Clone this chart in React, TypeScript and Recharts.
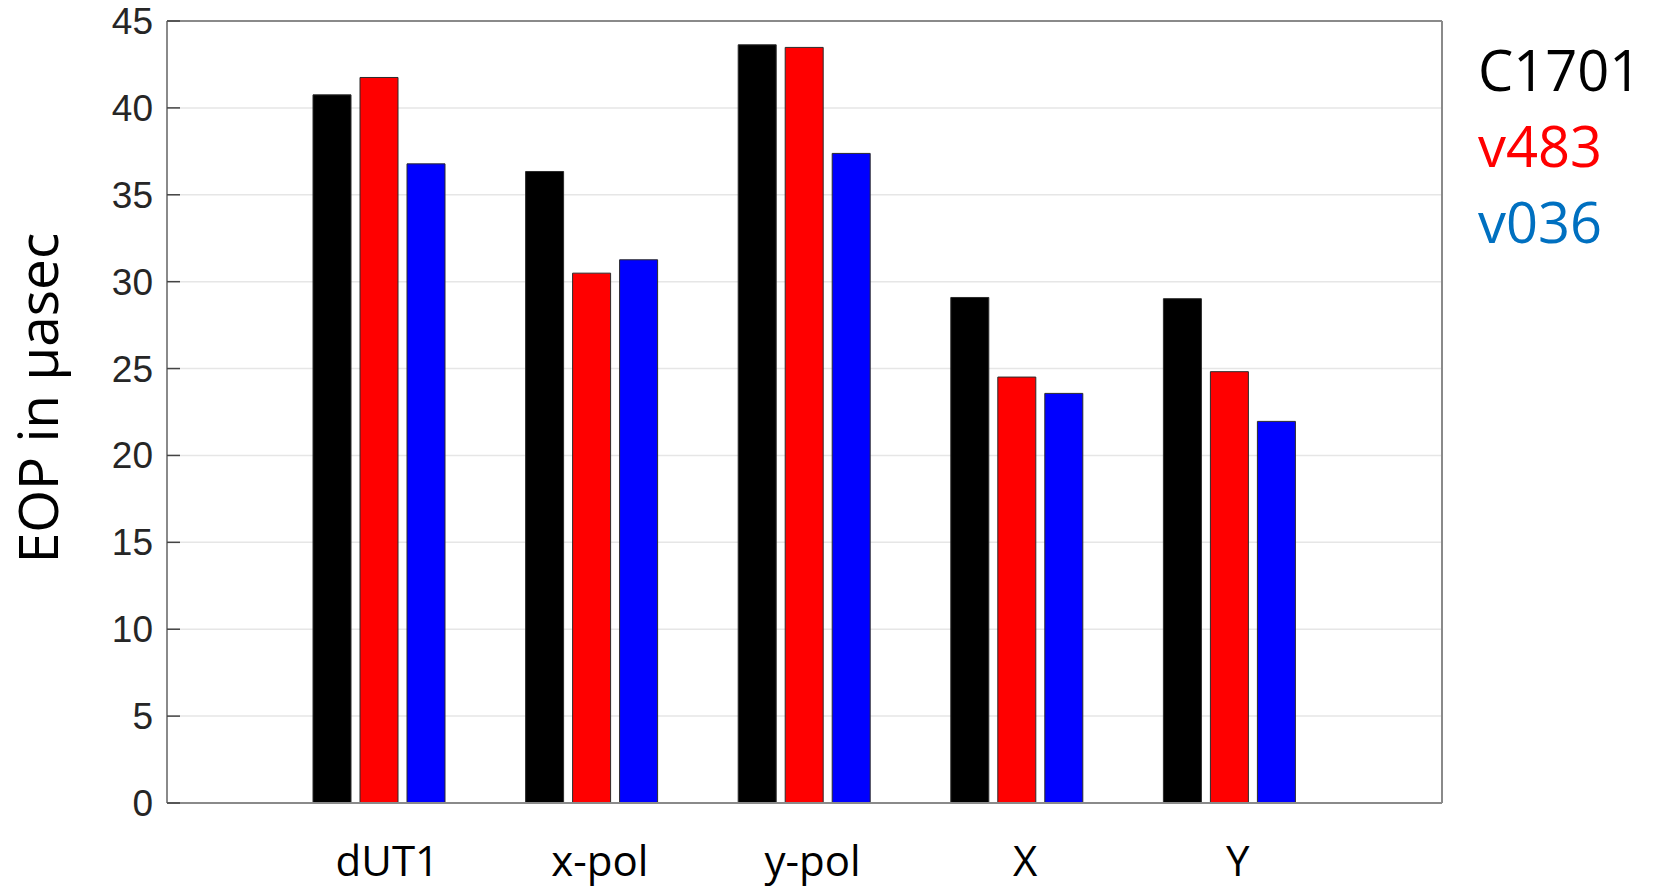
import React from 'react'
import { BarChart, Bar, XAxis, YAxis, CartesianGrid, ReferenceLine } from 'recharts'

const categories = ['dUT1', 'x-pol', 'y-pol', 'X', 'Y']
const c1701 = [40.75, 36.34, 43.63, 29.09, 29.02]
const v483 = [41.75, 30.49, 43.48, 24.51, 24.82]
const v036 = [36.78, 31.26, 37.38, 23.57, 21.96]
const yTicks = [0, 5, 10, 15, 20, 25, 30, 35, 40, 45]

const series = [
  { key: 'C1701', fill: '#000000', text: '#000000' },
  { key: 'v483', fill: '#ff0000', text: '#ff0000' },
  { key: 'v036', fill: '#0000ff', text: '#0070c0' },
]

const data = categories.map((name, i) => ({
  name,
  C1701: c1701[i],
  v483: v483[i],
  v036: v036[i],
}))

const axisColor = '#8a8a8a'
const TICK_GAP = 14
const TICK_LEN = 13

const LeftTick = (props: any) => {
  const { x, y, payload } = props
  return (
    <g>
      <line x1={x + TICK_GAP} x2={x + TICK_GAP + TICK_LEN} y1={y} y2={y} stroke="#444" strokeWidth={1.5} />
      <text x={x} y={y} dy={13} textAnchor="end" fill="#262626" fontSize={37} fontFamily="'Liberation Sans', Arial, sans-serif">
        {payload.value}
      </text>
    </g>
  )
}

const RightTick = (props: any) => {
  const { x, y } = props
  return <line x1={x - TICK_LEN} x2={x} y1={y} y2={y} stroke="#444" strokeWidth={1.5} />
}

const CatTick = (props: any) => {
  const { x, y, payload } = props
  return (
    <text x={x + 8} y={y} dy={56} textAnchor="middle" fill="#000" fontSize={42} fontFamily="'Open Sans', sans-serif">
      {payload.value}
    </text>
  )
}

const YLabel = (props: any) => {
  const { viewBox } = props
  const cy = viewBox.y + viewBox.height / 2 - 14
  const lx = 58
  return (
    <text x={lx} y={cy} transform={`rotate(-90, ${lx}, ${cy})`} textAnchor="middle" fill="#000" fontSize={55} fontFamily="'Open Sans', sans-serif">
      EOP in µasec
    </text>
  )
}

export default function App() {
  return (
    <div style={{ position: 'absolute', left: 0, top: 0, width: 1656, height: 890, background: '#fff' }}>
      <BarChart
        width={1656}
        height={890}
        data={data}
        margin={{ top: 21, right: 213, left: 107, bottom: 0 }}
        barSize={38}
        barGap={9}
      >
        <CartesianGrid vertical={false} stroke="#e6e6e6" strokeWidth={1.5} yAxisId="l" />
        <XAxis
          dataKey="name"
          height={87}
          padding={{ left: 106, right: 106 }}
          tickLine={false}
          tickSize={0}
          tickMargin={17}
          axisLine={{ stroke: axisColor, strokeWidth: 2 }}
          tick={<CatTick />}
          interval={0}
        />
        <YAxis
          yAxisId="l"
          width={60}
          domain={[0, 45]}
          ticks={yTicks}
          interval={0}
          tickLine={false}
          tickSize={0}
          tickMargin={TICK_GAP}
          axisLine={{ stroke: axisColor, strokeWidth: 2 }}
          tick={<LeftTick />}
          label={<YLabel />}
        />
        <YAxis
          yAxisId="r"
          orientation="right"
          width={1}
          domain={[0, 45]}
          ticks={yTicks}
          interval={0}
          tickLine={false}
          tickSize={0}
          tickMargin={0}
          axisLine={{ stroke: axisColor, strokeWidth: 2 }}
          tick={<RightTick />}
        />
        <ReferenceLine yAxisId="l" y={45} stroke={axisColor} strokeWidth={2} />
        {series.map((s) => (
          <Bar
            key={s.key}
            yAxisId="l"
            dataKey={s.key}
            fill={s.fill}
            stroke="#2b2b2b"
            strokeWidth={1}
            isAnimationActive={false}
          />
        ))}
      </BarChart>
      <div
        style={{
          position: 'absolute',
          left: 1478,
          top: 31,
          fontFamily: "'Open Sans', sans-serif",
          fontSize: 56,
          lineHeight: '76px',
        }}
      >
        {series.map((s) => (
          <div key={s.key} style={{ color: s.text }}>{s.key}</div>
        ))}
      </div>
    </div>
  )
}
